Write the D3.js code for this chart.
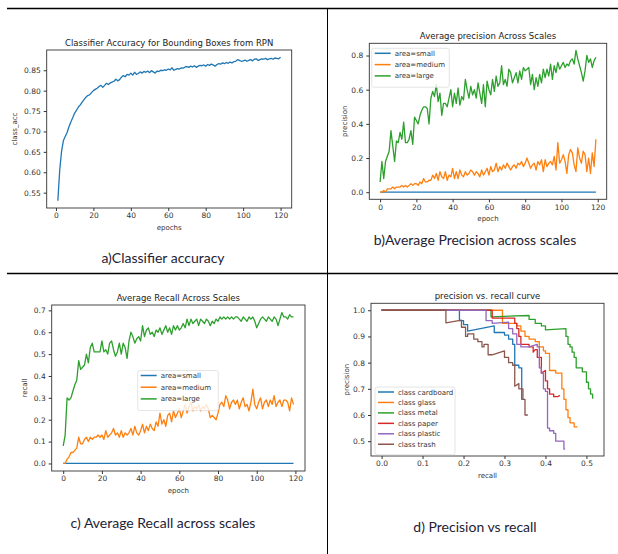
<!DOCTYPE html>
<html>
<head>
<meta charset="utf-8">
<script src="https://cdn.jsdelivr.net/npm/d3@7"></script>
<style>
  body { margin: 0; background: #fff; }
  svg { display: block; }
  .tick text { font-family: "DejaVu Sans", sans-serif; font-size: 7.5px; fill: #333; }
  .tick line { stroke: #333; }
  .lbl { font-family: "DejaVu Sans", sans-serif; font-size: 7px; fill: #333; }
  .ttl { font-family: "DejaVu Sans", sans-serif; font-size: 8.5px; fill: #222; }
  .cap { font-family: Lato, "Open Sans", sans-serif; font-size: 14px; fill: #1e2235; }
</style>
</head>
<body>
<svg id="chart" width="618" height="554"></svg>
<script>
// a) classifier accuracy, epochs 1..120
const accEpochs = d3.range(1, 121);
const classAcc = [
  0.530, 0.605, 0.652, 0.678, 0.688, 0.698, 0.712, 0.724, 0.734, 0.745,
  0.752, 0.760, 0.765, 0.772, 0.778, 0.784, 0.788, 0.790, 0.795, 0.800,
  0.803, 0.806, 0.810, 0.813, 0.808, 0.813, 0.818, 0.815, 0.819, 0.821,
  0.823, 0.828, 0.824, 0.827, 0.833, 0.837, 0.834, 0.840, 0.838, 0.843,
  0.838, 0.845, 0.840, 0.842, 0.846, 0.843, 0.847, 0.845, 0.848, 0.844,
  0.849, 0.846, 0.843, 0.848, 0.847, 0.850, 0.849, 0.851, 0.850, 0.853,
  0.851, 0.856, 0.850, 0.852, 0.854, 0.853, 0.856, 0.855, 0.858, 0.859,
  0.857, 0.860, 0.858, 0.861, 0.857, 0.860, 0.862, 0.861, 0.863, 0.860,
  0.864, 0.862, 0.865, 0.863, 0.860, 0.864, 0.866, 0.865, 0.868, 0.866,
  0.869, 0.867, 0.870, 0.868, 0.871, 0.872, 0.876, 0.874, 0.872, 0.873,
  0.875, 0.872, 0.874, 0.876, 0.873, 0.877, 0.878, 0.874, 0.876, 0.878,
  0.877, 0.879, 0.876, 0.878, 0.879, 0.877, 0.880, 0.879, 0.878, 0.882
];

// b) and c) epochs 0..119
const scaleEpochs = d3.range(0, 120);
const precSmall = scaleEpochs.map(() => 0);
const precMedium = [
  0.00, 0.00, 0.01, 0.00, 0.02, 0.02, 0.02, 0.03, 0.02, 0.03,
  0.03, 0.03, 0.04, 0.03, 0.04, 0.03, 0.04, 0.05, 0.04, 0.05,
  0.05, 0.04, 0.06, 0.05, 0.08, 0.06, 0.06, 0.07, 0.07, 0.10,
  0.08, 0.11, 0.07, 0.12, 0.09, 0.08, 0.12, 0.07, 0.10, 0.09,
  0.14, 0.08, 0.12, 0.08, 0.13, 0.10, 0.09, 0.12, 0.10, 0.11,
  0.13, 0.12, 0.10, 0.12, 0.11, 0.09, 0.13, 0.10, 0.12, 0.14,
  0.10, 0.15, 0.12, 0.13, 0.17, 0.12, 0.15, 0.13, 0.16, 0.14,
  0.17, 0.15, 0.13, 0.15, 0.16, 0.14, 0.17, 0.16, 0.18, 0.15,
  0.17, 0.20, 0.17, 0.14, 0.16, 0.17, 0.13, 0.18, 0.16, 0.19,
  0.12, 0.19, 0.15, 0.17, 0.18, 0.16, 0.21, 0.13, 0.29, 0.17,
  0.19, 0.22, 0.18, 0.11, 0.22, 0.25, 0.23, 0.16, 0.12, 0.26,
  0.20, 0.17, 0.24, 0.22, 0.12, 0.20, 0.11, 0.23, 0.15, 0.31
];
const precLarge = [
  0.06, 0.18, 0.08, 0.18, 0.21, 0.24, 0.36, 0.27, 0.18, 0.30,
  0.29, 0.35, 0.31, 0.41, 0.29, 0.29, 0.31, 0.36, 0.28, 0.44,
  0.42, 0.40, 0.45, 0.48, 0.50, 0.50, 0.49, 0.40, 0.55, 0.59,
  0.56, 0.63, 0.53, 0.58, 0.45, 0.52, 0.52, 0.50, 0.55, 0.60,
  0.50, 0.58, 0.52, 0.61, 0.51, 0.56, 0.54, 0.66, 0.60, 0.55,
  0.62, 0.57, 0.60, 0.55, 0.64, 0.58, 0.52, 0.63, 0.50, 0.65,
  0.60, 0.57, 0.66, 0.59, 0.68, 0.62, 0.64, 0.74, 0.63, 0.66,
  0.62, 0.72, 0.70, 0.64, 0.67, 0.70, 0.64, 0.71, 0.66, 0.73,
  0.71, 0.72, 0.73, 0.63, 0.69, 0.60, 0.67, 0.62, 0.69, 0.64,
  0.72, 0.67, 0.72, 0.68, 0.75, 0.66, 0.74, 0.70, 0.76, 0.72,
  0.74, 0.76, 0.73, 0.75, 0.74, 0.77, 0.78, 0.75, 0.83, 0.78,
  0.74, 0.70, 0.65, 0.71, 0.80, 0.76, 0.78, 0.73, 0.77, 0.79
];

const recSmall = scaleEpochs.map(() => 0);
const recMedium = [
  0.00, 0.00, 0.02, 0.03, 0.05, 0.05, 0.06, 0.07, 0.12, 0.09,
  0.09, 0.11, 0.12, 0.10, 0.12, 0.11, 0.12, 0.12, 0.13, 0.12,
  0.13, 0.11, 0.15, 0.12, 0.13, 0.14, 0.16, 0.13, 0.14, 0.12,
  0.15, 0.12, 0.14, 0.13, 0.14, 0.16, 0.13, 0.17, 0.14, 0.13,
  0.15, 0.18, 0.14, 0.17, 0.15, 0.18, 0.16, 0.15, 0.19, 0.17,
  0.23, 0.18, 0.20, 0.17, 0.22, 0.23, 0.19, 0.24, 0.21, 0.23,
  0.25, 0.21, 0.24, 0.27, 0.23, 0.26, 0.28, 0.24, 0.26, 0.25,
  0.27, 0.24, 0.26, 0.25, 0.27, 0.25, 0.21, 0.22, 0.21, 0.20,
  0.23, 0.27, 0.28, 0.26, 0.31, 0.29, 0.25, 0.28, 0.29, 0.27,
  0.29, 0.25, 0.28, 0.30, 0.26, 0.27, 0.24, 0.28, 0.34, 0.27,
  0.25, 0.28, 0.30, 0.25, 0.28, 0.29, 0.26, 0.29, 0.27, 0.31,
  0.26, 0.28, 0.29, 0.26, 0.29, 0.29, 0.28, 0.24, 0.30, 0.27
];
const recLarge = [
  0.08, 0.13, 0.30, 0.29, 0.30, 0.33, 0.36, 0.38, 0.47, 0.43,
  0.44, 0.45, 0.50, 0.46, 0.53, 0.55, 0.51, 0.51, 0.51, 0.51,
  0.56, 0.51, 0.52, 0.50, 0.55, 0.56, 0.52, 0.49, 0.51, 0.55,
  0.50, 0.55, 0.53, 0.48, 0.56, 0.60, 0.58, 0.55, 0.57, 0.58,
  0.56, 0.63, 0.58, 0.61, 0.62, 0.59, 0.60, 0.58, 0.61, 0.60,
  0.62, 0.59, 0.61, 0.63, 0.60, 0.62, 0.59, 0.63, 0.61, 0.63,
  0.61, 0.62, 0.64, 0.62, 0.66, 0.63, 0.66, 0.64, 0.65, 0.66,
  0.63, 0.66, 0.65, 0.64, 0.66, 0.65, 0.63, 0.65, 0.64, 0.66,
  0.65, 0.67, 0.66, 0.67, 0.66, 0.67, 0.66, 0.67, 0.66, 0.67,
  0.67, 0.66, 0.65, 0.67, 0.66, 0.65, 0.67, 0.66, 0.67, 0.65,
  0.62, 0.64, 0.66, 0.67, 0.66, 0.65, 0.67, 0.66, 0.65, 0.67,
  0.66, 0.63, 0.66, 0.69, 0.67, 0.67, 0.66, 0.68, 0.67, 0.67
];

// d) precision vs recall, [recall, precision]
const prCardboard = [[0,1],[0.19,1],[0.19,0.96],[0.20,0.96],[0.20,0.945],[0.21,0.945],[0.21,0.92],[0.275,0.94],[0.275,0.915],[0.30,0.915],[0.30,0.905],[0.31,0.905],[0.31,0.89],[0.32,0.89],[0.32,0.87],[0.325,0.87],[0.325,0.79],[0.335,0.79],[0.335,0.78],[0.342,0.78],[0.342,0.66],[0.345,0.66]];
const prGlass = [[0,1],[0.295,1],[0.295,0.95],[0.33,0.95],[0.33,0.94],[0.34,0.94],[0.34,0.92],[0.35,0.92],[0.35,0.90],[0.36,0.90],[0.36,0.89],[0.375,0.89],[0.375,0.88],[0.385,0.88],[0.385,0.86],[0.395,0.86],[0.395,0.845],[0.40,0.845],[0.40,0.835],[0.41,0.835],[0.41,0.77],[0.425,0.77],[0.425,0.76],[0.44,0.76],[0.44,0.70],[0.445,0.70],[0.445,0.66],[0.45,0.66],[0.45,0.62],[0.455,0.62],[0.455,0.59],[0.46,0.59],[0.46,0.57],[0.47,0.57],[0.47,0.555],[0.478,0.555]];
const prMetal = [[0,1],[0.267,1],[0.267,0.975],[0.36,0.98],[0.36,0.965],[0.375,0.965],[0.375,0.95],[0.39,0.95],[0.39,0.94],[0.40,0.94],[0.40,0.925],[0.45,0.93],[0.45,0.90],[0.455,0.90],[0.455,0.87],[0.46,0.87],[0.46,0.86],[0.465,0.86],[0.465,0.84],[0.47,0.84],[0.47,0.82],[0.475,0.82],[0.475,0.78],[0.49,0.78],[0.49,0.765],[0.50,0.765],[0.50,0.725],[0.505,0.725],[0.505,0.70],[0.51,0.70],[0.51,0.68],[0.515,0.68],[0.515,0.665],[0.517,0.665]];
const prPaper = [[0,1],[0.27,1],[0.27,0.97],[0.325,0.97],[0.325,0.95],[0.33,0.95],[0.33,0.93],[0.335,0.93],[0.335,0.90],[0.34,0.90],[0.34,0.87],[0.36,0.87],[0.36,0.86],[0.37,0.86],[0.37,0.84],[0.375,0.85],[0.38,0.85],[0.38,0.82],[0.39,0.82],[0.39,0.76],[0.40,0.77],[0.40,0.73],[0.405,0.73],[0.405,0.70],[0.41,0.70],[0.41,0.68],[0.42,0.68],[0.42,0.67],[0.43,0.67],[0.435,0.675]];
const prPlastic = [[0,1],[0.255,1],[0.255,0.96],[0.27,0.96],[0.27,0.95],[0.31,0.955],[0.31,0.93],[0.32,0.93],[0.32,0.91],[0.33,0.91],[0.33,0.87],[0.34,0.87],[0.34,0.86],[0.36,0.86],[0.38,0.87],[0.38,0.86],[0.385,0.86],[0.385,0.78],[0.39,0.78],[0.39,0.76],[0.395,0.76],[0.395,0.70],[0.40,0.70],[0.40,0.69],[0.405,0.69],[0.405,0.55],[0.41,0.55],[0.41,0.54],[0.42,0.54],[0.42,0.53],[0.425,0.53],[0.425,0.50],[0.445,0.50],[0.445,0.47],[0.448,0.47]];
const prTrash = [[0,1],[0.157,1],[0.157,0.952],[0.195,0.962],[0.195,0.935],[0.205,0.935],[0.205,0.90],[0.21,0.90],[0.21,0.91],[0.225,0.91],[0.225,0.89],[0.235,0.89],[0.235,0.88],[0.245,0.88],[0.245,0.86],[0.25,0.86],[0.25,0.87],[0.26,0.87],[0.26,0.83],[0.27,0.83],[0.30,0.845],[0.30,0.82],[0.31,0.82],[0.31,0.80],[0.32,0.80],[0.32,0.79],[0.325,0.79],[0.325,0.71],[0.335,0.72],[0.335,0.70],[0.345,0.70],[0.345,0.66],[0.35,0.66],[0.35,0.60],[0.357,0.60]];

const C = { blue: "#1f77b4", orange: "#ff7f0e", green: "#2ca02c", red: "#d62728", purple: "#9467bd", brown: "#8c564b" };

const svg = d3.select("#chart");

// grid of the figure table
svg.append("line").attr("x1", 7).attr("x2", 618).attr("y1", 8.5).attr("y2", 8.5).attr("stroke", "#000").attr("stroke-width", 1.3);
svg.append("line").attr("x1", 7).attr("x2", 618).attr("y1", 273.5).attr("y2", 273.5).attr("stroke", "#000").attr("stroke-width", 1.3);
svg.append("line").attr("x1", 327.5).attr("x2", 327.5).attr("y1", 8).attr("y2", 554).attr("stroke", "#000").attr("stroke-width", 1);

// matplotlib-like 5% margin
function pad(lo, hi) {
  const d = (hi - lo) * 0.05;
  return [lo - d, hi + d];
}

function drawPanel(p) {
  const x = d3.scaleLinear().domain(p.xDomain).range([p.left, p.right]);
  const y = d3.scaleLinear().domain(p.yDomain).range([p.bottom, p.top]);
  const g = svg.append("g");

  // lines
  const line = d3.line().x(d => x(d[0])).y(d => y(d[1]));
  p.series.forEach(s => {
    g.append("path")
      .datum(s.points)
      .attr("fill", "none")
      .attr("stroke", s.color)
      .attr("stroke-width", p.lineWidth || 1.3)
      .attr("stroke-linejoin", "round")
      .attr("d", line);
  });

  // axes
  const xa = g.append("g").attr("transform", `translate(0,${p.bottom})`)
    .call(d3.axisBottom(x).tickValues(p.xTicks).tickFormat(p.xFormat).tickSize(3).tickPadding(2));
  const ya = g.append("g").attr("transform", `translate(${p.left},0)`)
    .call(d3.axisLeft(y).tickValues(p.yTicks).tickFormat(p.yFormat).tickSize(3).tickPadding(3));
  xa.select(".domain").remove();
  ya.select(".domain").remove();

  g.append("rect")
    .attr("x", p.left).attr("y", p.top)
    .attr("width", p.right - p.left).attr("height", p.bottom - p.top)
    .attr("fill", "none").attr("stroke", "#333").attr("stroke-width", 0.9);

  // titles
  g.append("text").attr("class", "ttl").attr("text-anchor", "middle")
    .attr("x", (p.left + p.right) / 2).attr("y", p.top - 4).text(p.title);
  g.append("text").attr("class", "lbl").attr("text-anchor", "middle")
    .attr("x", (p.left + p.right) / 2).attr("y", p.bottom + 22).text(p.xLabel);
  g.append("text").attr("class", "lbl").attr("text-anchor", "middle")
    .attr("transform", `translate(${p.yLabelX},${(p.top + p.bottom) / 2}) rotate(-90)`).text(p.yLabel);

  // legend
  if (p.legend) {
    const L = p.legend;
    const items = p.series;
    const rowH = L.rowH;
    const lg = g.append("g").attr("transform", `translate(${L.x},${L.y})`);
    lg.append("rect")
      .attr("width", L.w).attr("height", items.length * rowH + 5)
      .attr("rx", 2)
      .attr("fill", "#fff").attr("fill-opacity", 0.8)
      .attr("stroke", "#ddd").attr("stroke-width", 0.8);
    items.forEach((s, i) => {
      const cy = 5 + i * rowH;
      lg.append("line").attr("x1", 3).attr("x2", 19).attr("y1", cy).attr("y2", cy)
        .attr("stroke", s.color).attr("stroke-width", 1.5);
      lg.append("text").attr("class", "lbl").attr("x", 23).attr("y", cy + 2.5).text(s.name);
    });
  }

  // caption
  svg.append("text").attr("class", "cap").attr("text-anchor", "middle")
    .attr("x", p.capX).attr("y", p.capY).text(p.caption);
}

const zip = (xs, ys) => xs.map((v, i) => [v, ys[i]]);
const epochTicks = d3.range(0, 121, 20);

drawPanel({
  left: 46.7, top: 50, right: 291.7, bottom: 208,
  xDomain: pad(1, 120), yDomain: pad(d3.min(classAcc), d3.max(classAcc)),
  xTicks: epochTicks, xFormat: d3.format("d"),
  yTicks: [0.55, 0.60, 0.65, 0.70, 0.75, 0.80, 0.85], yFormat: d3.format(".2f"),
  title: "Classifier Accuracy for Bounding Boxes from RPN",
  xLabel: "epochs", yLabel: "class_acc", yLabelX: 17,
  series: [{ name: "class_acc", color: C.blue, points: zip(accEpochs, classAcc) }],
  caption: "a)Classifier accuracy", capX: 163, capY: 263
});

drawPanel({
  left: 369.3, top: 43.3, right: 606.7, bottom: 199.3,
  xDomain: pad(0, 119), yDomain: pad(0, d3.max(precLarge)),
  xTicks: epochTicks, xFormat: d3.format("d"),
  yTicks: [0, 0.2, 0.4, 0.6, 0.8], yFormat: d3.format(".1f"),
  title: "Average precision Across Scales",
  xLabel: "epoch", yLabel: "precision", yLabelX: 347,
  series: [
    { name: "area=small", color: C.blue, points: zip(scaleEpochs, precSmall) },
    { name: "area=medium", color: C.orange, points: zip(scaleEpochs, precMedium) },
    { name: "area=large", color: C.green, points: zip(scaleEpochs, precLarge) }
  ],
  legend: { x: 371.7, y: 48.3, w: 77.6, rowH: 11.3 },
  caption: "b)Average Precision across scales", capX: 475, capY: 245
});

drawPanel({
  left: 51.7, top: 305, right: 305, bottom: 471,
  xDomain: pad(0, 119), yDomain: pad(0, d3.max(recLarge)),
  xTicks: epochTicks, xFormat: d3.format("d"),
  yTicks: [0, 0.1, 0.2, 0.3, 0.4, 0.5, 0.6, 0.7], yFormat: d3.format(".1f"),
  title: "Average Recall Across Scales",
  xLabel: "epoch", yLabel: "recall", yLabelX: 27,
  series: [
    { name: "area=small", color: C.blue, points: zip(scaleEpochs, recSmall) },
    { name: "area=medium", color: C.orange, points: zip(scaleEpochs, recMedium) },
    { name: "area=large", color: C.green, points: zip(scaleEpochs, recLarge) }
  ],
  legend: { x: 137.7, y: 370.5, w: 80.6, rowH: 11.7 },
  caption: "c) Average Recall across scales", capX: 163, capY: 528
});

const prAll = [prCardboard, prGlass, prMetal, prPaper, prPlastic, prTrash].flat();
drawPanel({
  left: 371, top: 303.3, right: 604, bottom: 456,
  xDomain: pad(0, d3.max(prAll, d => d[0])), yDomain: pad(d3.min(prAll, d => d[1]), 1),
  xTicks: [0, 0.1, 0.2, 0.3, 0.4, 0.5], yTicks: [0.5, 0.6, 0.7, 0.8, 0.9, 1.0],
  xFormat: d3.format(".1f"), yFormat: d3.format(".1f"),
  title: "precision vs. recall curve",
  xLabel: "recall", yLabel: "precision", yLabelX: 349,
  series: [
    { name: "class cardboard", color: C.blue, points: prCardboard },
    { name: "class glass", color: C.orange, points: prGlass },
    { name: "class metal", color: C.green, points: prMetal },
    { name: "class paper", color: C.red, points: prPaper },
    { name: "class plastic", color: C.purple, points: prPlastic },
    { name: "class trash", color: C.brown, points: prTrash }
  ],
  legend: { x: 375, y: 387, w: 80, rowH: 10.45 },
  caption: "d) Precision vs recall", capX: 475, capY: 532
});
</script>
</body>
</html>
